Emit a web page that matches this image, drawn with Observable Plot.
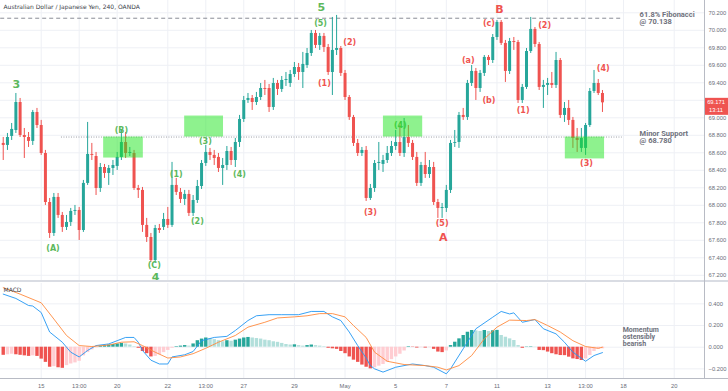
<!DOCTYPE html>
<html><head><meta charset="utf-8">
<script src="https://cdn.jsdelivr.net/npm/d3@7"></script>
<script src="https://cdn.jsdelivr.net/npm/@observablehq/plot@0.6"></script>
<style>
html,body{margin:0;padding:0;background:#fff;}
#wrap{position:relative;width:728px;height:391px;overflow:hidden;background:#fff;}
#wrap svg{position:absolute;left:0;}
</style></head>
<body><div id="wrap"></div>
<script>
// ---------- DATA (4h candles, index 0 = 15 Apr 00:00) ----------
const firstIndex = -9;
const opens = [68.707,68.684,68.787,68.855,69.175,68.798,68.775,68.730,69.061,
68.912,68.592,68.032,67.678,68.090,67.884,67.747,67.804,67.930,67.941,
67.712,68.250,68.581,68.558,68.192,68.432,68.364,68.421,68.444,68.547,
68.718,68.592,68.592,68.192,68.170,67.770,67.632,67.369,67.735,67.747,
67.838,67.770,68.227,68.147,68.067,68.124,67.907,68.055,68.215,68.478,
68.604,68.570,68.547,68.421,68.455,68.615,68.512,68.718,68.981,69.198,
69.221,69.175,69.232,69.335,69.335,69.118,69.392,69.324,69.427,69.392,
69.495,69.575,69.518,69.598,69.735,69.964,69.827,69.930,69.804,69.518,
69.770,69.792,69.507,69.232,69.004,68.707,68.592,68.627,68.078,68.192,
68.478,68.467,68.512,68.592,68.672,68.718,68.592,68.775,68.707,68.547,
68.250,68.455,68.352,68.432,68.032,67.964,67.964,68.170,68.707,68.718,
69.027,69.004,69.392,69.530,69.335,69.507,69.690,69.655,69.918,70.090,
69.850,69.530,69.872,69.861,69.198,69.347,69.758,70.010,69.838,69.347,
69.370,69.392,69.370,69.655,69.027,69.107,68.970,68.764,68.650,68.650,
68.912,69.301,69.392,69.278];
const highs = [68.775,68.821,68.935,69.278,69.221,68.878,68.832,69.084,69.107,
68.970,68.627,68.078,68.135,68.135,67.918,67.884,67.964,67.998,67.975,
68.284,68.947,68.707,68.604,68.478,68.467,68.455,68.512,68.604,68.855,
68.832,68.661,68.627,68.227,68.204,67.850,67.678,67.770,67.781,67.907,
67.975,68.490,68.307,68.192,68.170,68.170,68.112,68.284,68.512,68.684,
68.650,68.627,68.592,68.535,68.672,68.661,68.764,69.027,69.244,69.278,
69.255,69.290,69.392,69.427,69.381,69.450,69.427,69.472,69.518,69.541,
69.632,69.621,69.747,69.792,69.998,69.998,69.964,69.964,69.838,70.147,
70.170,69.815,69.541,69.255,69.027,68.752,68.661,68.672,68.238,68.512,
68.718,68.570,68.672,68.730,68.855,68.912,68.992,68.912,68.741,68.604,
68.490,68.604,68.512,68.490,68.067,68.021,68.227,68.741,68.855,69.061,
69.107,69.427,69.598,69.564,69.541,69.712,69.712,69.952,70.112,70.112,
69.884,69.907,69.918,69.884,69.381,69.792,70.147,70.032,69.861,69.427,
69.450,69.518,69.747,69.678,69.175,69.198,69.004,68.878,68.878,68.935,
69.335,69.541,69.438,69.312];
const lows = [68.512,68.627,68.741,68.821,68.775,68.535,68.661,68.684,68.878,
68.570,67.998,67.621,67.644,67.850,67.690,67.712,67.758,67.884,67.598,
67.690,68.227,68.512,68.112,68.147,68.307,68.227,68.341,68.398,68.512,
68.535,68.558,68.170,68.078,67.690,67.575,67.347,67.335,67.678,67.712,
67.735,67.747,68.112,68.021,67.998,67.872,67.872,68.021,68.181,68.444,
68.512,68.455,68.375,68.227,68.398,68.455,68.432,68.661,68.947,69.164,
69.084,69.141,69.198,69.255,69.061,69.084,69.255,69.290,69.358,69.347,
69.461,69.427,69.335,69.564,69.701,69.792,69.770,69.747,69.484,69.255,
69.712,69.472,69.198,68.970,68.672,68.558,68.558,68.044,68.055,68.147,
68.398,68.375,68.478,68.558,68.627,68.558,68.547,68.661,68.512,68.215,
68.215,68.307,68.307,67.998,67.850,67.850,67.918,68.135,68.661,68.650,
68.970,68.970,69.358,69.198,69.290,69.472,69.598,69.621,69.884,69.827,
69.404,69.495,69.770,69.164,69.164,69.324,69.735,69.804,69.312,69.107,
69.255,69.335,69.335,68.992,68.947,68.912,68.650,68.604,68.604,68.570,
68.890,69.278,69.255,69.061];
const closes = [68.684,68.775,68.867,69.175,68.798,68.775,68.730,69.061,68.912,
68.592,68.032,67.678,68.090,67.884,67.747,67.804,67.930,67.941,67.712,
68.250,68.581,68.570,68.192,68.432,68.364,68.421,68.455,68.547,68.718,
68.592,68.604,68.192,68.170,67.770,67.632,67.369,67.735,67.712,67.838,
67.770,68.227,68.147,68.067,68.124,67.907,68.055,68.215,68.478,68.604,
68.570,68.535,68.421,68.455,68.615,68.512,68.718,68.981,69.198,69.221,
69.175,69.232,69.335,69.324,69.118,69.392,69.324,69.427,69.438,69.495,
69.575,69.518,69.610,69.735,69.964,69.827,69.930,69.804,69.518,69.770,
69.792,69.507,69.232,69.004,68.707,68.592,68.627,68.078,68.192,68.478,
68.490,68.512,68.592,68.672,68.718,68.592,68.775,68.707,68.547,68.250,
68.455,68.352,68.432,68.032,67.964,67.975,68.170,68.707,68.718,69.027,
69.004,69.392,69.530,69.335,69.507,69.690,69.655,69.918,70.090,69.850,
69.530,69.872,69.861,69.198,69.347,69.758,70.010,69.838,69.347,69.370,
69.392,69.370,69.655,69.027,69.107,68.970,68.764,68.741,68.764,68.912,
69.301,69.392,69.278,69.171];

// MACD histogram, one value per candle
const histogram = [-0.075,-0.07,-0.065,-0.07,-0.075,-0.08,-0.085,-0.08,-0.085,
-0.11,-0.14,-0.185,-0.18,-0.19,-0.195,-0.17,-0.155,-0.145,-0.13,
-0.08,-0.05,-0.025,-0.005,0.01,0.015,0.02,0.025,0.03,0.035,
0.03,0.02,0.005,-0.01,-0.04,-0.06,-0.09,-0.085,-0.07,-0.05,
-0.03,-0.01,0.005,0.01,0.015,0.01,0.03,0.06,0.075,0.085,
0.08,0.07,0.06,0.05,0.06,0.055,0.065,0.075,0.085,0.09,
0.085,0.08,0.075,0.065,0.06,0.05,0.045,0.035,0.025,0.02,
0.022,0.015,0.01,0.015,0.02,0.015,0.01,0.005,-0.01,-0.015,
-0.02,-0.04,-0.06,-0.09,-0.12,-0.14,-0.165,-0.185,-0.2,-0.19,
-0.175,-0.16,-0.14,-0.115,-0.09,-0.065,-0.035,0.005,-0.003,-0.008,
-0.004,-0.008,-0.004,-0.02,-0.045,-0.05,-0.035,0.015,0.046,0.077,
0.108,0.138,0.154,0.15,0.145,0.154,0.145,0.152,0.155,0.108,
0.092,0.077,0.062,0.015,-0.01,0.003,0.004,0.002,-0.03,-0.032,
-0.045,-0.06,-0.07,-0.077,-0.078,-0.092,-0.108,-0.114,-0.123,-0.108,
-0.077,-0.04,-0.02,-0.015];

// MACD line and signal line, read at candle indices
const macdIdx = [-9,-6,-3,-2,0,2,5,7,9,11,13,16,18,20,22,23,24,26,28,30,31,34,36,38,41,44,46,49,51,54,57,61,64,67,69,71,73,75,77,78,79,81,84,88,91,93,96,97,100,103,107,109,111,112,114,117,119,122,124,126,129,131,133];
const macdVal = [0.49,0.45,0.385,0.38,0.32,0.14,0.046,-0.046,-0.09,-0.03,0.015,0.03,0.06,0.09,0.09,0.046,-0.03,-0.12,-0.155,-0.155,-0.09,-0.07,-0.04,0.06,0.09,0.1,0.154,0.246,0.29,0.3,0.3,0.3,0.33,0.33,0.28,0.246,0.14,0.015,-0.1,-0.17,-0.2,-0.23,-0.185,-0.155,-0.17,-0.185,-0.246,-0.2,-0.015,0.17,0.277,0.33,0.307,0.317,0.23,0.255,0.17,0.123,0.046,-0.046,-0.13,-0.077,-0.05];
const signalIdx = [-9,-5,0,3,6,9,12,16,19,22,24,27,30,33,36,39,42,46,49,53,56,60,63,66,69,72,74,77,79,82,86,91,94,96,99,102,105,108,111,115,117,120,123,126,129,132,133];
const signalVal = [0.55,0.49,0.41,0.26,0.108,0.015,0.006,0.02,0.046,0.05,0.015,-0.046,-0.1,-0.09,-0.06,-0.01,0.046,0.108,0.185,0.23,0.27,0.28,0.29,0.31,0.31,0.28,0.2,0.09,-0.046,-0.13,-0.16,-0.17,-0.185,-0.21,-0.17,-0.077,0.077,0.185,0.25,0.246,0.255,0.2,0.14,0.06,0.006,-0.01,0.0];

// Axis ticks (the 69.200 label sits under the last-price tag, as in the original)
const priceTicks = [67.2,67.4,67.6,67.8,68.0,68.2,68.4,68.6,68.8,69.0,69.2,69.4,69.6,69.8,70.0,70.2];
const priceLabelTicks = [67.2,67.4,67.6,67.8,68.0,68.2,68.4,68.6,68.8,69.0,69.4,69.6,69.8,70.0,70.2];
const macdTicks = [-0.2,0,0.2,0.4];
const dateTickIdx = [0,9,18,30,39,48,60,72,84,96,108,120,129,138,150];
const dateTickLabels = ["15","13:00","20","22","13:00","27","29","May","5","7","11","13","13:00","18","20"];

// Levels
const fibLevel = 70.138, supportLevel = 68.78;
const fibStart = -9.6, supportStart = 4.8, levelEnd = 137.7, noteIdx = 141.8;
const lastClose = 69.171;
const countdown = "13:11";

// Zones (green boxes)
const zoneX1 = [14.8, 34.0, 81.1, 124.2];
const zoneX2 = [24.2, 43.2, 90.4, 133.5];
const zoneLow = [68.54, 68.78, 68.78, 68.53];
const zoneHigh = [68.78, 69.02, 69.02, 68.78];

// Wave labels
const greenText = ["(A)","(B)","(C)","(1)","(2)","(3)","(4)","(5)","(4)"];
const greenIdx = [2.8,19.0,26.8,32.0,37.0,38.9,47.0,66.2,85.1];
const greenPrice = [67.507,68.855,67.318,68.352,67.819,68.730,68.352,70.082,68.912];
const greenBigText = ["3","4","5"];
const greenBigIdx = [-5.9,27.1,66.4];
const greenBigPrice = [69.381,67.178,70.257];
const redText = ["(1)","(2)","(3)","(5)","(a)","(b)","(c)","(1)","(2)","(3)","(4)"];
const redIdx = [67.1,73.1,78.0,95.0,101.2,106.1,106.1,114.2,119.3,129.2,133.2];
const redPrice = [69.392,69.864,67.921,67.792,69.652,69.198,70.082,69.084,70.055,68.478,69.560];
const redBigText = ["A","B"];
const redBigIdx = [95.3,108.6];
const redBigPrice = [67.632,70.234];

// ---------- BUILD ----------
const UP = "#26a69a", DOWN = "#ef5350", GREEN = "#5cb85c", RED = "#ef5350";
const xDomain = [-9.645, 157.18];
const FONT = "DejaVu Sans, Verdana, sans-serif";
const NOTE_FONT = "Roboto, Arial, sans-serif";
const AXIS_FONT = "Liberation Sans, Arial, sans-serif";

const bars = opens.map((o, k) => ({i: k + firstIndex, o, h: highs[k], l: lows[k], c: closes[k]}));
const zones = zoneX1.map((x1, k) => ({x1, x2: zoneX2[k], y1: zoneLow[k], y2: zoneHigh[k]}));
const toLabels = (t, x, y) => t.map((s, k) => ({t: s, i: x[k], p: y[k]}));
const hist = histogram.map((v, k) => {
  const prev = k > 0 ? histogram[k - 1] : v;
  const col = v >= 0 ? (v > prev ? "#26a69a" : "#b2dfdb") : (v < prev || k === 0 ? "#ef5350" : "#ffcdd2");
  return {i: k + firstIndex, v, col};
});
const macdLine = macdIdx.map((i, k) => ({i, v: macdVal[k]}));
const signalLine = signalIdx.map((i, k) => ({i, v: signalVal[k]}));

const main = Plot.plot({
  width: 728, height: 281,
  marginTop: 0, marginBottom: 0, marginLeft: 0, marginRight: 24,
  x: {domain: xDomain, axis: null},
  y: {domain: [67.129, 70.3406], axis: "right", ticks: priceLabelTicks, tickFormat: d3.format(".3f"), tickSize: 0, tickPadding: 4, label: null},
  color: {type: "identity"},
  style: {background: "transparent", fontFamily: AXIS_FONT, fontSize: "5.8px", color: "#6a6d78", overflow: "visible"},
  marks: [
    Plot.ruleX(dateTickIdx, {stroke: "#eef0f5"}),
    Plot.ruleY(priceTicks, {stroke: "#eef0f5"}),
    Plot.ruleY([fibLevel], {x1: fibStart, x2: levelEnd, stroke: "#8a8d96", strokeDasharray: "4,3", strokeWidth: 1}),
    Plot.ruleY([supportLevel], {x1: supportStart, x2: levelEnd, stroke: "#9a9da6", strokeDasharray: "1,1.5", strokeWidth: 1}),
    Plot.ruleX(bars, {x: "i", y1: "l", y2: "h", stroke: d => d.c >= d.o ? UP : DOWN, strokeWidth: 1}),
    Plot.ruleX(bars, {x: "i", y1: "o", y2: "c", stroke: d => d.c >= d.o ? UP : DOWN, strokeWidth: 3}),
    Plot.text(toLabels(greenText, greenIdx, greenPrice), {x: "i", y: "p", text: "t", fill: GREEN, fontSize: 8, fontWeight: "bold", fontFamily: FONT}),
    Plot.text(toLabels(greenBigText, greenBigIdx, greenBigPrice), {x: "i", y: "p", text: "t", fill: GREEN, fontSize: 11, fontWeight: "bold", fontFamily: FONT}),
    Plot.text(toLabels(redText, redIdx, redPrice), {x: "i", y: "p", text: "t", fill: RED, fontSize: 8, fontWeight: "bold", fontFamily: FONT}),
    Plot.text(toLabels(redBigText, redBigIdx, redBigPrice), {x: "i", y: "p", text: "t", fill: RED, fontSize: 11, fontWeight: "bold", fontFamily: FONT}),
    Plot.rect(zones, {x1: "x1", x2: "x2", y1: "y1", y2: "y2", fill: "#1ee61e", fillOpacity: 0.5}),
    Plot.text([`61.8% Fibonacci\n@ ${fibLevel.toFixed(3)}`], {x: noteIdx, y: fibLevel, textAnchor: "start", lineAnchor: "middle", lineHeight: 1.0, fontSize: 7.5, fontWeight: "bold", fill: "#6f727d", fontFamily: NOTE_FONT}),
    Plot.text([`Minor Support\n@ ${supportLevel.toFixed(3)}`], {x: noteIdx, y: supportLevel, textAnchor: "start", lineAnchor: "middle", lineHeight: 1.0, fontSize: 7.5, fontWeight: "bold", fill: "#6f727d", fontFamily: NOTE_FONT}),
    Plot.text(["Australian Dollar / Japanese Yen, 240, OANDA"], {frameAnchor: "top-left", dx: 3, dy: 4, lineAnchor: "top", textAnchor: "start", fontSize: 6, fill: "#3b3e48", fontFamily: FONT})
  ]
});
main.style.top = "0px";

const macd = Plot.plot({
  width: 728, height: 110,
  marginTop: 2, marginBottom: 13, marginLeft: 0, marginRight: 24,
  x: {domain: xDomain, axis: "bottom", ticks: dateTickIdx, tickFormat: i => dateTickLabels[dateTickIdx.indexOf(i)], tickSize: 0, tickPadding: 5, label: null},
  y: {domain: [-0.289, 0.588], axis: "right", ticks: macdTicks, tickFormat: d3.format(".3f"), tickSize: 0, tickPadding: 4, label: null},
  color: {type: "identity"},
  style: {background: "transparent", fontFamily: AXIS_FONT, fontSize: "5.8px", color: "#6a6d78", overflow: "visible"},
  marks: [
    Plot.ruleX(dateTickIdx, {stroke: "#eef0f5"}),
    Plot.ruleY(macdTicks, {stroke: "#eef0f5"}),
    Plot.ruleX(hist, {x: "i", y1: 0, y2: "v", stroke: "col", strokeWidth: 3.4}),
    Plot.line(macdLine, {x: "i", y: "v", stroke: "#2196f3", strokeWidth: 0.9}),
    Plot.line(signalLine, {x: "i", y: "v", stroke: "#ff8a3d", strokeWidth: 0.9}),
    Plot.text(["MACD"], {frameAnchor: "top-left", dx: 3, dy: 4, lineAnchor: "top", textAnchor: "start", fontSize: 6, fill: "#3b3e48", fontFamily: FONT}),
    Plot.text(["Momentum\nostensibly\nbearish"], {x: 137.8, y: 0.1, textAnchor: "start", lineAnchor: "middle", lineHeight: 1.0, fontSize: 7, fontWeight: "bold", fill: "#6f727d", fontFamily: NOTE_FONT})
  ]
});
macd.style.top = "281px";

const wrap = document.getElementById("wrap");
wrap.appendChild(main);
wrap.appendChild(macd);

// last-price tag (position from the library's y scale)
const yM = main.scale("y");
const sm = d3.select(main);
const cy = yM.apply(lastClose);
sm.append("rect").attr("x", 704).attr("y", cy - 4.5).attr("width", 24).attr("height", 17).attr("fill", "#ef5350");
sm.append("text").attr("x", 716).attr("y", cy).attr("dy", "0.35em").attr("text-anchor", "middle").attr("fill", "#fff").attr("font-size", 5.8).attr("font-family", AXIS_FONT).text(lastClose.toFixed(3));
sm.append("text").attr("x", 716).attr("y", cy + 8).attr("dy", "0.35em").attr("text-anchor", "middle").attr("fill", "#fff").attr("font-size", 5.8).attr("font-family", AXIS_FONT).text(countdown);

// panel frame lines
const addLine = (x1, y1, x2, y2, c) => {
  const d = document.createElement("div");
  d.style.cssText = `position:absolute;left:${x1}px;top:${y1}px;width:${x2 - x1}px;height:${y2 - y1}px;background:${c};`;
  wrap.appendChild(d);
};
addLine(0, 280, 728, 282, "#d9dce3");
addLine(704, 0, 705, 378, "#b8bbc4");
addLine(0, 378, 728, 379, "#b8bbc4");
</script>
</body></html>
